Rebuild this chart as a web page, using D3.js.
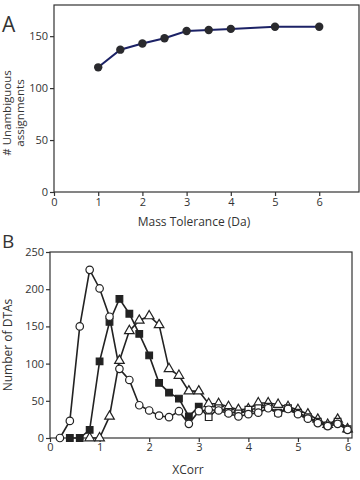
<!DOCTYPE html>
<html>
<head>
<meta charset="utf-8">
<script src="https://cdn.jsdelivr.net/npm/d3@7"></script>
<style>
  body { margin: 0; background: #fff; }
  text { font-family: 'Open Sans', sans-serif; fill: #333; }
</style>
</head>
<body>
<div id="app"></div>
<script>
'use strict'

// Panel A: mass tolerance vs unambiguous assignments
const tolerance = [1, 1.5, 2, 2.5, 3, 3.5, 4, 5, 6]
const assignments = [120, 137, 143, 148, 155, 156, 157, 159, 159]
const ticksA_x = [0, 1, 2, 3, 4, 5, 6]
const ticksA_y = [0, 50, 100, 150]

// Panel B: XCorr distributions, one value per 0.2 step
const xcorr = d3.range(1, 31).map(i => +(i * 0.2).toFixed(1))
const circles = [0, 23, 150, 226, 201, 163, 93, 78, 44, 37, 30, 28, 36, 19, 36,
  38, 37, 33, 29, 32, 34, 40, 33, 39, 32, 26, 20, 16, 19, 11]
const squares = [null, 0, 0, 11, 103, 156, 187, 167, 140, 111, 74, 61, 53, 29, 42,
  28, 40, 35, 33, 38, 40, 42, 34, 40, 34, 28, 22, 17, 22, 12]
const triangles = [null, null, null, 0, 0, 29, 104, 144, 158, 164, 152, 93, 84, 63, 63,
  46, 46, 42, 38, 39, 47, 47, 45, 42, 38, 32, 25, 18, 25, 12]
const ticksB_x = [0, 1, 2, 3, 4, 5, 6]
const ticksB_y = [0, 50, 100, 150, 200, 250]

const svg = d3.select('#app').append('svg')
  .attr('width', 360)
  .attr('height', 480)

const frame = (g, x0, x1, y0, y1) => {
  g.append('rect')
    .attr('x', x0).attr('y', y0)
    .attr('width', x1 - x0).attr('height', y1 - y0)
    .attr('fill', 'none')
    .attr('stroke', '#333')
    .attr('stroke-width', 1.2)
}

const styleAxis = g => {
  g.select('.domain').remove()
  g.selectAll('line').attr('stroke', '#333').attr('stroke-width', 1.2)
  g.selectAll('text').style('font-size', '11px').style('fill', '#333')
}

/* ---------- Panel A ---------- */
const xA = d3.scaleLinear().domain([0, 6.9]).range([54, 359])
const yA = d3.scaleLinear().domain([0, 180]).range([192, 5])

const gA = svg.append('g')
frame(gA, 54, 359, 5, 192)

gA.append('g')
  .attr('transform', 'translate(0,192)')
  .call(d3.axisBottom(xA).tickValues(ticksA_x).tickFormat(d3.format('d')).tickSize(4).tickPadding(2))
  .call(styleAxis)

gA.append('g')
  .attr('transform', 'translate(54,0)')
  .call(d3.axisLeft(yA).tickValues(ticksA_y).tickFormat(d3.format('d')).tickSize(4).tickPadding(2))
  .call(styleAxis)

const ptsA = tolerance.map((t, i) => [t, assignments[i]])

gA.append('path')
  .datum(ptsA)
  .attr('fill', 'none')
  .attr('stroke', '#1c2266')
  .attr('stroke-width', 2)
  .attr('d', d3.line().x(d => xA(d[0])).y(d => yA(d[1])))

gA.selectAll('circle.pt')
  .data(ptsA)
  .enter().append('circle')
  .attr('class', 'pt')
  .attr('cx', d => xA(d[0]))
  .attr('cy', d => yA(d[1]))
  .attr('r', 4.2)
  .attr('fill', '#2a2a2e')

svg.append('text').attr('x', 2).attr('y', 32)
  .style('font-size', '21px').text('A')

svg.append('text')
  .attr('x', 194).attr('y', 226)
  .attr('text-anchor', 'middle')
  .style('font-size', '12px')
  .text('Mass Tolerance (Da)')

svg.append('text')
  .attr('transform', 'translate(11,113) rotate(-90)')
  .attr('text-anchor', 'middle')
  .style('font-size', '11.5px')
  .text('# Unambiguous')

svg.append('text')
  .attr('transform', 'translate(24,113) rotate(-90)')
  .attr('text-anchor', 'middle')
  .style('font-size', '11.5px')
  .text('assignments')

/* ---------- Panel B ---------- */
const xB = d3.scaleLinear().domain([0, 6.09]).range([50, 352])
const yB = d3.scaleLinear().domain([0, 250]).range([438, 252])

const gB = svg.append('g')
frame(gB, 50, 352, 252, 438)

gB.append('g')
  .attr('transform', 'translate(0,438)')
  .call(d3.axisBottom(xB).tickValues(ticksB_x).tickFormat(d3.format('d')).tickSize(4).tickPadding(1))
  .call(styleAxis)

gB.append('g')
  .attr('transform', 'translate(50,0)')
  .call(d3.axisLeft(yB).tickValues(ticksB_y).tickFormat(d3.format('d')).tickSize(4).tickPadding(2))
  .call(styleAxis)

const lineB = d3.line()
  .defined(d => d[1] != null)
  .x(d => xB(d[0]))
  .y(d => yB(d[1]))

const series = [
  { name: 'circle', values: circles },
  { name: 'square', values: squares },
  { name: 'triangle', values: triangles }
]

series.forEach(s => {
  const pts = xcorr.map((x, i) => [x, s.values[i]])
  gB.append('path')
    .datum(pts)
    .attr('fill', 'none')
    .attr('stroke', '#222')
    .attr('stroke-width', 1.6)
    .attr('d', lineB)
})

const symbolOf = {
  circle: d3.symbol().type(d3.symbolCircle).size(44),
  square: d3.symbol().type(d3.symbolSquare).size(44),
  triangle: d3.symbol().type(d3.symbolTriangle).size(40)
}

// draw triangles first, squares, then circles on top
;[series[2], series[1], series[0]].forEach(s => {
  const pts = xcorr.map((x, i) => [x, s.values[i]]).filter(d => d[1] != null)
  gB.selectAll('path.' + s.name)
    .data(pts)
    .enter().append('path')
    .attr('class', s.name)
    .attr('transform', d => `translate(${xB(d[0])},${yB(d[1])})`)
    .attr('d', symbolOf[s.name])
    .attr('fill', d => (s.name === 'square' && d[0] <= 3.0) ? '#222' : '#fff')
    .attr('stroke', '#222')
    .attr('stroke-width', 1.2)
})

svg.append('text').attr('x', 2).attr('y', 248)
  .style('font-size', '19px').text('B')

svg.append('text')
  .attr('x', 188).attr('y', 474)
  .attr('text-anchor', 'middle')
  .style('font-size', '12px')
  .text('XCorr')

svg.append('text')
  .attr('transform', 'translate(12,345) rotate(-90)')
  .attr('text-anchor', 'middle')
  .style('font-size', '12px')
  .text('Number of DTAs')
</script>
</body>
</html>
